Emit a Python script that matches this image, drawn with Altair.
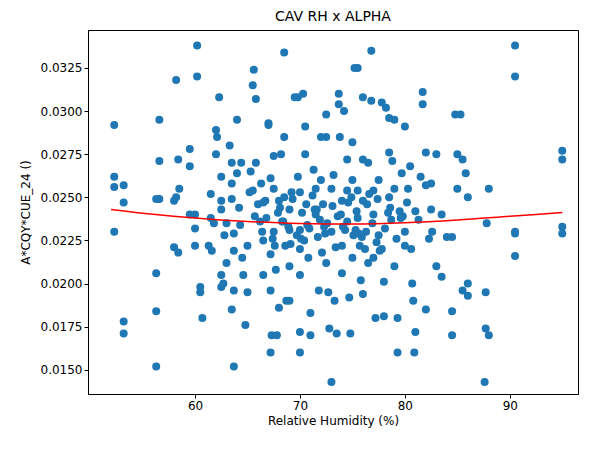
import pandas as pd
import altair as alt

rh = [52.3, 52.3, 52.3, 52.3, 53.2, 53.2, 53.2, 53.2,
      56.3, 56.3, 56.3, 56.6, 56.6, 56.6, 56.3,
      58.2, 58.4, 58.5, 58.2, 58.0, 58.0, 58.4,
      59.5, 59.5, 59.5, 60.0, 60.0, 60.0, 60.2, 60.2, 60.5, 60.5, 60.7,
      61.5, 61.5, 61.3, 61.6, 62.0, 62.0, 62.1, 62.3, 62.5, 62.5, 62.5, 62.5, 62.5, 62.7, 63.0, 63.0,
      63.3, 63.5, 63.5, 63.5, 63.7, 63.7, 63.7, 63.5, 63.7,
      64.0, 64.0, 64.2, 64.4, 64.5, 64.6, 64.8, 65.0, 65.0, 65.2, 65.3, 65.5, 65.5, 65.6, 65.8, 65.8,
      66.0, 66.2, 66.3, 66.5, 66.5, 66.5,
      67.0, 67.0, 67.2, 67.2, 67.2, 67.3, 67.2, 67.5, 67.5, 67.5, 67.7, 67.8, 68.0, 68.0, 68.2,
      68.5, 68.5, 68.5, 68.6, 68.7, 69.0, 69.0, 69.0, 69.0,
      69.5, 69.8, 69.8, 70.0, 70.0, 70.0, 70.0, 70.0, 70.0, 70.3, 70.5, 70.5, 70.6, 70.8, 71.0, 71.0,
      71.3, 71.5, 71.5, 71.7, 71.8, 72.0, 72.0, 72.2, 72.5, 72.5, 72.5, 72.7, 72.8, 73.0, 73.0, 73.0,
      73.2, 73.3, 73.5,
      73.7, 73.7, 73.8, 74.0, 74.0, 74.0, 74.2, 74.5, 74.5, 74.5, 74.7, 74.8, 75.0, 75.0, 75.0, 75.2,
      75.5, 75.5, 75.5, 75.7, 75.8, 76.0, 76.0, 76.0, 76.0, 76.3, 76.5, 76.5, 76.8, 76.8, 77.0, 77.0,
      77.0, 77.2,
      77.5, 77.5, 77.8, 77.8, 78.0, 78.0, 78.2, 78.5, 78.5, 78.5, 78.7, 78.8, 79.0, 79.0, 79.0, 79.3,
      79.3, 79.5, 79.7, 80.0, 80.0, 80.0, 80.3, 80.5, 80.6, 80.7, 80.8, 80.9, 81.0, 81.0, 81.5, 81.7,
      81.7, 82.0, 82.0, 82.0, 82.5, 82.5, 82.6, 83.0, 83.0, 83.5, 83.5, 84.0, 84.5, 84.5, 84.5, 84.8,
      85.0, 85.0, 85.3, 85.5, 85.5, 85.8, 86.0, 86.0, 86.0,
      87.7, 87.7, 87.6, 87.8, 88.0, 88.0, 90.5, 90.5, 90.5, 90.5, 90.5, 95.0, 95.0, 95.0, 95.0,
      66.8, 67.4, 68.1, 68.9, 69.3, 69.7, 70.2, 70.7, 71.2, 71.9, 72.4, 73.1, 73.6, 74.3, 74.9, 75.4,
      75.9, 76.4, 76.9, 77.4, 78.1, 78.6, 79.2, 79.8, 67.6, 68.4, 69.2, 70.4, 71.4, 72.3, 73.4, 74.6,
      75.6, 76.6, 77.6, 78.4, 64.3, 65.7, 66.7, 62.8, 61.8, 80.2, 81.3, 82.3,
      69.1, 70.9, 72.1, 73.9, 75.1, 76.2, 68.3, 71.6, 74.1, 77.3, 79.6, 66.4, 67.9, 70.1, 72.6, 75.3]

ratio = [0.0292, 0.0262, 0.0256, 0.0230, 0.0257, 0.0247, 0.0178, 0.0171,
         0.0206, 0.0184, 0.0152, 0.0295, 0.0271, 0.0249, 0.0249,
         0.0318, 0.0272, 0.0255, 0.0250, 0.0248, 0.0221, 0.0218,
         0.0278, 0.0268, 0.0240, 0.0240, 0.0232, 0.0222, 0.0320, 0.0338, 0.0198, 0.0195, 0.0180,
         0.0252, 0.0238, 0.0222, 0.0219, 0.0275, 0.0289, 0.0285, 0.0308, 0.0262, 0.0248, 0.0243, 0.0205, 0.0198, 0.0200, 0.0235, 0.0212,
         0.0280, 0.0270, 0.0258, 0.0249, 0.0229, 0.0219, 0.0196, 0.0185, 0.0152,
         0.0295, 0.0264, 0.0244, 0.0270, 0.0215, 0.0205, 0.0176, 0.0195, 0.0222, 0.0253, 0.0265, 0.0254, 0.0315, 0.0324, 0.0307, 0.0270,
         0.0246, 0.0236, 0.0258, 0.0247, 0.0225, 0.0205,
         0.0293, 0.0292, 0.0261, 0.0217, 0.0196, 0.0170, 0.0160, 0.0274, 0.0255, 0.0230, 0.0208, 0.0170, 0.0248, 0.0186, 0.0275,
         0.0334, 0.0285, 0.0250, 0.0222, 0.0190, 0.0243, 0.0231, 0.0210, 0.0190,
         0.0308, 0.0308, 0.0262, 0.0253, 0.0231, 0.0220, 0.0205, 0.0172, 0.0160, 0.0310, 0.0291, 0.0275, 0.0246, 0.0215, 0.0183, 0.0170,
         0.0266, 0.0255, 0.0240, 0.0227, 0.0196, 0.0285, 0.0260, 0.0246, 0.0298, 0.0285, 0.0212, 0.0195, 0.0174, 0.0143, 0.0255, 0.0230,
         0.0263, 0.0190, 0.0171,
         0.0310, 0.0304, 0.0285, 0.0248, 0.0222, 0.0206, 0.0300, 0.0272, 0.0254, 0.0236, 0.0192, 0.0171, 0.0282, 0.0260, 0.0215, 0.0325,
         0.0325, 0.0254, 0.0238, 0.0222, 0.0202, 0.0308, 0.0272, 0.0248, 0.0194, 0.0230, 0.0270, 0.0212, 0.0335, 0.0306, 0.0254, 0.0240,
         0.0215, 0.0180,
         0.0260, 0.0228, 0.0305, 0.0220, 0.0201, 0.0181, 0.0302, 0.0296, 0.0276, 0.0250, 0.0237, 0.0271, 0.0295, 0.0255, 0.0210, 0.0180,
         0.0160, 0.0242, 0.0264, 0.0291, 0.0230, 0.0222, 0.0255, 0.0268, 0.0220, 0.0200, 0.0190, 0.0160, 0.0242, 0.0172, 0.0262, 0.0311,
         0.0304, 0.0276, 0.0257, 0.0185, 0.0258, 0.0243, 0.0230, 0.0275, 0.0210, 0.0240, 0.0204, 0.0227, 0.0227, 0.0184, 0.0170, 0.0298,
         0.0275, 0.0255, 0.0298, 0.0272, 0.0196, 0.0264, 0.0250, 0.0200, 0.0193,
         0.0195, 0.0174, 0.0143, 0.0235, 0.0255, 0.0170, 0.0338, 0.0320, 0.0230, 0.0229, 0.0216, 0.0277, 0.0272, 0.0233, 0.0229,
         0.0238, 0.0226, 0.0244, 0.0233, 0.0249, 0.0228, 0.0241, 0.0234, 0.0251, 0.0237, 0.0229, 0.0245, 0.0239, 0.0231, 0.0250, 0.0242,
         0.0227, 0.0246, 0.0235, 0.0249, 0.0232, 0.0244, 0.0226, 0.0239, 0.0222, 0.0236, 0.0253, 0.0225, 0.0243, 0.0233, 0.0221, 0.0247,
         0.0229, 0.0252, 0.0219, 0.0241, 0.0234, 0.0239, 0.0248, 0.0228, 0.0235, 0.0247, 0.0237, 0.0226,
         0.0223, 0.0232, 0.0218, 0.0240, 0.0228, 0.0220, 0.0236, 0.0243, 0.0233, 0.0224, 0.0238, 0.0230, 0.0241, 0.0226, 0.0235, 0.0231]

fit_x = [52, 56, 60, 65, 70, 75, 80, 85, 90, 95]
fit_y = [0.02430, 0.02402, 0.02380, 0.02360, 0.02348, 0.02345, 0.02352, 0.02368, 0.02390, 0.02412]

pts = pd.DataFrame({'rh': rh, 'val': ratio})
fit = pd.DataFrame({'rh': fit_x, 'val': fit_y})

x_scale = alt.Scale(domain=[49.8, 96.5], nice=False, zero=False)
y_scale = alt.Scale(domain=[0.0136, 0.0347], nice=False, zero=False)
axis_style = dict(grid=False, domainColor='black', tickColor='black', tickSize=4,
                  labelColor='black', titleColor='black', labelFontSize=12,
                  titleFontSize=12, titleFontWeight='normal', labelFont='DejaVu Sans',
                  titleFont='DejaVu Sans')

scatter = alt.Chart(pts).mark_circle(size=64, opacity=1, color='#1f77b4').encode(
    x=alt.X('rh:Q', scale=x_scale, title='Relative Humidity (%)',
            axis=alt.Axis(values=[60, 70, 80, 90], **axis_style)),
    y=alt.Y('val:Q', scale=y_scale, title='A*CQY*CUE_24 ()',
            axis=alt.Axis(values=[0.015, 0.0175, 0.02, 0.0225, 0.025, 0.0275, 0.03, 0.0325],
                          format='.4f', titlePadding=8, **axis_style)),
)

line = alt.Chart(fit).mark_line(color='red', strokeWidth=1.5, interpolate='monotone').encode(
    x=alt.X('rh:Q', scale=x_scale),
    y=alt.Y('val:Q', scale=y_scale),
)

chart = (scatter + line).properties(
    width=490, height=364,
    autosize=alt.AutoSizeParams(type='none'),
    padding={'left': 80, 'top': 22, 'right': 8, 'bottom': 50},
    title=alt.TitleParams('CAV RH x ALPHA', fontSize=14, fontWeight='normal',
                          font='DejaVu Sans', color='black', offset=6),
).configure_view(stroke='black', strokeWidth=1)

chart.save("out.html", embed_options={"renderer": "svg", "actions": False})
